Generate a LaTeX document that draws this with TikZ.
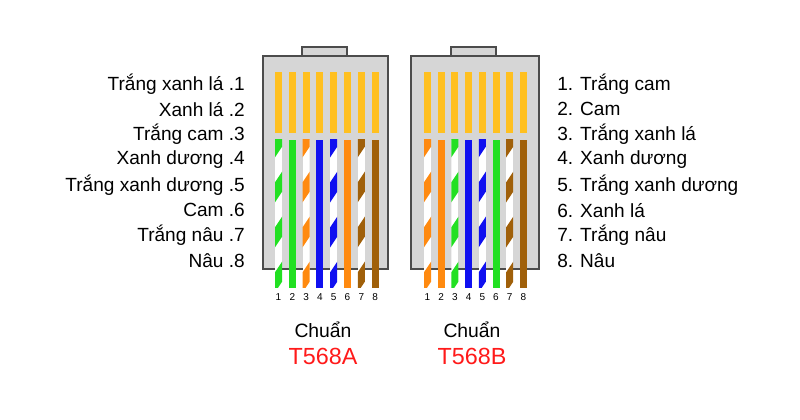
\documentclass[tikz,border=0pt]{standalone}
\usepackage{fontspec}
\setmainfont{Liberation Sans}
\usetikzlibrary{positioning}
\definecolor{plugGray}{HTML}{D6D6D6}
\definecolor{pinGold}{HTML}{FFC020}
\definecolor{wGreen}{HTML}{22E022}
\definecolor{wOrange}{HTML}{FF8A10}
\definecolor{wBlue}{HTML}{1010F0}
\definecolor{wBrown}{HTML}{A0600A}
\definecolor{stdRed}{HTML}{FF1A1A}
\tikzset{
  plug/.style={fill=plugGray, draw=black!70, line width=1.2pt},
  lbl/.style={font=\fontsize{14.3}{16}\selectfont, inner sep=0pt},
  pinno/.style={font=\rmfamily\fontsize{7.5}{8}\selectfont, inner sep=0pt, anchor=base}
}
% \wire{x}{colour}{striped 1/0}
\newcommand{\wire}[3]{%
  \ifnum#3=1
    \begin{scope}
      \clip (#1-3.5,140) rectangle (#1+3.5,288);
      \fill[white] (#1-3.5,140) rectangle (#1+3.5,288);
      \foreach \yy in {126,171,216,261}
        \fill[#2] (#1-4,\yy+12) -- (#1+4,\yy) -- (#1+4,\yy+20) -- (#1-4,\yy+32) -- cycle;
    \end{scope}
  \else
    \fill[#2] (#1-3.5,140) rectangle (#1+3.5,288);
  \fi}
\begin{document}
\begin{tikzpicture}[x=0.75pt,y=-0.75pt]
    \useasboundingbox[fill=white] (0,0) rectangle (800,420);

    % plug bodies
    \draw[plug] (302,47) rectangle (347,56);
    \node[plug, minimum width=93.75pt, minimum height=159.75pt, inner sep=0pt, anchor=north west] (plugA) at (262,55) {};
    \draw[plug] (451,47) rectangle (496,56);
    \node[plug, minimum width=96pt, minimum height=159.75pt, inner sep=0pt, anchor=north west] (plugB) at (410,55) {};

    % gold contacts
    \foreach \i in {0,...,7} {
        \fill[pinGold] (275+13.8*\i,72) rectangle (282+13.8*\i,133);
        \fill[pinGold] (424+13.7*\i,72) rectangle (431+13.7*\i,133);
    }

    % T568A wires
    \foreach \i/\c/\s [count=\n] in {0/wGreen/1,1/wGreen/0,2/wOrange/1,3/wBlue/0,4/wBlue/1,5/wOrange/0,6/wBrown/1,7/wBrown/0} {
        \wire{278.5+13.8*\i}{\c}{\s}
        \node[pinno] (a\n) at (278.5+13.8*\i,301) {\n};
    }
    % T568B wires
    \foreach \i/\c/\s [count=\n] in {0/wOrange/1,1/wOrange/0,2/wGreen/1,3/wBlue/0,4/wBlue/1,5/wGreen/0,6/wBrown/1,7/wBrown/0} {
        \wire{427.5+13.7*\i}{\c}{\s}
        \node[pinno] (b\n) at (427.5+13.7*\i,301) {\n};
    }

    % labels left
    \foreach \t [count=\n] in {Trắng xanh lá .1,Xanh lá .2,Trắng cam .3,Xanh dương .4,Trắng xanh dương .5,Cam .6,Trắng nâu .7,Nâu .8}
        \node[lbl, anchor=east] (la\n) at (245,59+25.2*\n) {\t};
    % labels right
    \foreach \t [count=\n] in {1. Trắng cam,2. Cam,3. Trắng xanh lá,4. Xanh dương,5. Trắng xanh dương,6. Xanh lá,7. Trắng nâu,8. Nâu}
        \node[lbl, anchor=west] (lb\n) at (557,59+25.2*\n) {\t};

    % standard names
    \node[lbl, font=\fontsize{14.5}{16}\selectfont] (chA) at (323,330) {Chuẩn};
    \node[lbl, font=\fontsize{17.5}{19}\selectfont, text=stdRed] (stA) at (323,356) {T568A};
    \node[lbl, font=\fontsize{14.5}{16}\selectfont] (chB) at (472,330) {Chuẩn};
    \node[lbl, font=\fontsize{17.5}{19}\selectfont, text=stdRed] (stB) at (472,356) {T568B};
\end{tikzpicture}
\end{document}
